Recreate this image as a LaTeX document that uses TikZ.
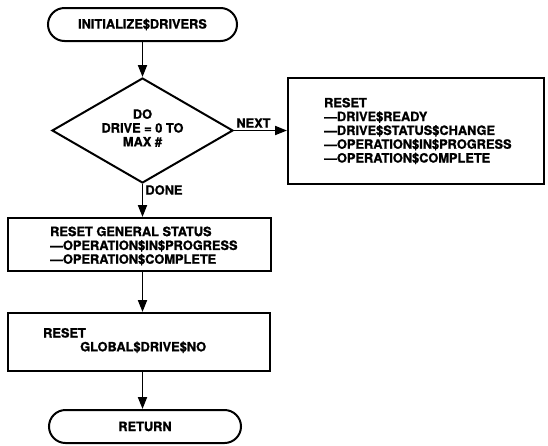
\documentclass[tikz,border=0pt]{standalone}
\usepackage{fontspec}
\setmainfont{TeX Gyre Heros}[BoldFeatures={FakeBold=1.2}]
\usetikzlibrary{shapes.geometric,shapes.misc,arrows.meta}
\begin{document}
\begin{tikzpicture}[x=1pt,y=-1pt,
  every node/.style={font=\bfseries\fontsize{12.8}{13.8}\selectfont},
  term/.style={draw,line width=2pt,rounded rectangle,minimum height=33pt,inner sep=0pt},
  box/.style={draw,line width=2pt,rectangle,inner sep=0pt},
  dec/.style={draw,line width=2pt,diamond,inner sep=0pt,shape aspect=1.72,minimum width=181pt,minimum height=105pt},
  txt/.style={align=left,inner sep=0pt,anchor=west},
  flow/.style={line width=1.8pt,-{Triangle[length=12pt,width=9pt]}},
  lbl/.style={inner sep=0pt}]
\useasboundingbox (0,0) rectangle (548,445);
\node[term,minimum width=189pt] (start) at (142.5,24.5) {INITIALIZE\$DRIVERS};
\node[dec] (loop) at (142.5,130.5) {};
\node[align=center,inner sep=0pt] (looptxt) at (142.5,128) {DO\\DRIVE = 0 TO\\MAX \#};
\node[box,minimum width=256pt,minimum height=106pt] (rbox) at (416,131) {};
\node[txt] (rtxt) at (324,131) {RESET\\—DRIVE\$READY\\—DRIVE\$STATUS\$CHANGE\\—OPERATION\$IN\$PROGRESS\\—OPERATION\$COMPLETE};
\node[box,minimum width=263pt,minimum height=53pt] (gen) at (139.5,244.5) {};
\node[txt] (gentxt) at (50,246) {RESET GENERAL STATUS\\—OPERATION\$IN\$PROGRESS\\—OPERATION\$COMPLETE};
\node[box,minimum width=262pt,minimum height=58pt] (glob) at (139,342) {};
\node[txt] (globtxt) at (43,340.5) {RESET\\\hspace*{37pt}GLOBAL\$DRIVE\$NO};
\node[term,minimum width=192pt] (ret) at (145,426.5) {RETURN};
\node[lbl] (next) at (253.5,123) {NEXT};
\node[lbl] (done) at (164,190) {DONE};
\draw[flow] (start.south -| loop.north) -- (loop.north);
\draw[flow] (loop.east) -- (loop.east -| rbox.west);
\draw[flow] (loop.south) -- (loop.south |- gen.north);
\draw[flow] (gen.south -| loop.south) -- (glob.north -| loop.south);
\draw[flow] (glob.south -| loop.south) -- (ret.north -| loop.south);
\end{tikzpicture}
\end{document}
